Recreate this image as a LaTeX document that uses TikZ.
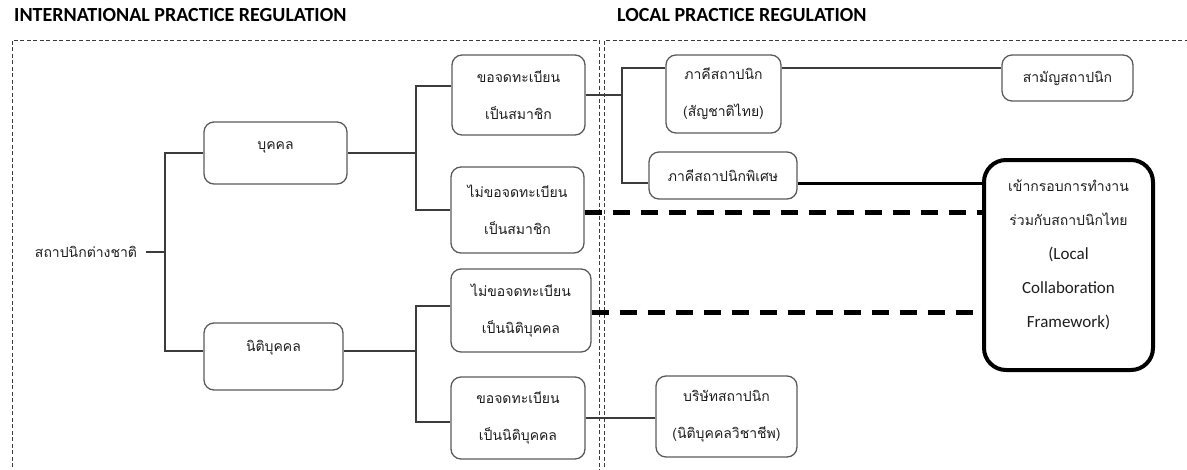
\documentclass[tikz,border=0pt]{standalone}
\usepackage{fontspec}
\setmainfont{Carlito}
\newfontfamily\thaifont[Script=Thai]{Loma}
\usetikzlibrary{calc}

\definecolor{linegray}{HTML}{3C3C3C}
\definecolor{boxgray}{HTML}{5A5A5A}
\definecolor{dashgray}{HTML}{3A3A3A}
\definecolor{txt}{HTML}{1E1E1E}

\begin{document}
\begin{tikzpicture}[x=1pt,y=-1pt,
  thai/.style={font=\thaifont\fontsize{14}{37}\selectfont, text=txt},
  rbox/.style={thai, draw=boxgray, line width=1.3pt, rounded corners=10pt, align=center, inner sep=0pt},
  lcfbox/.style={draw=black, line width=4pt, rounded corners=22pt, inner sep=0pt},
  link/.style={draw=linegray, line width=1.2pt},
  boldlink/.style={draw=black, line width=3pt},
  dashlink/.style={draw=black, line width=5pt, dash pattern=on 17pt off 11pt},
  region/.style={draw=dashgray, line width=1pt, dash pattern=on 4pt off 2.5pt},
  heading/.style={font=\bfseries\fontsize{20}{24}\selectfont, anchor=west, inner sep=0pt}
]
\useasboundingbox (0,0) rectangle (1187,469);

% regulation regions
\draw[region] (12,480) -- (12,40) -- (599,40) -- (599,480);
\draw[region] (604,480) -- (604,40) -- (1200,40);

\node[heading] (h1) at (14,15) {INTERNATIONAL PRACTICE REGULATION};
\node[heading] (h2) at (617,15) {LOCAL PRACTICE REGULATION};

% international side
\node[thai, inner ysep=3pt, inner xsep=9pt] (foreign) at (86,252) {สถาปนิกต่างชาติ};
\node[rbox, minimum width=143pt, minimum height=62pt, text height=10pt, text depth=17pt] (person) at (275.5,153) {บุคคล};
\node[rbox, minimum width=139pt, minimum height=67pt, text height=10pt, text depth=20pt] (juristic) at (273.5,356.5) {นิติบุคคล};

\node[rbox, minimum width=133pt, minimum height=80pt] (b1) at (518.5,95) {ขอจดทะเบียน\\เป็นสมาชิก};
\node[rbox, minimum width=133pt, minimum height=86pt] (b2) at (517.5,210) {ไม่ขอจดทะเบียน\\เป็นสมาชิก};
\node[rbox, minimum width=140pt, minimum height=83pt] (b3) at (521,310.5) {ไม่ขอจดทะเบียน\\เป็นนิติบุคคล};
\node[rbox, minimum width=134pt, minimum height=82pt] (b4) at (518,418) {ขอจดทะเบียน\\เป็นนิติบุคคล};

% local side
\node[rbox, minimum width=115pt, minimum height=78pt] (c1) at (723.5,94) {ภาคีสถาปนิก\\(สัญชาติไทย)};
\node[rbox, minimum width=131pt, minimum height=46pt] (c2) at (1067.5,78) {สามัญสถาปนิก};
\node[rbox, minimum width=148pt, minimum height=47pt] (c3) at (723,175.5) {ภาคีสถาปนิกพิเศษ};
\node[rbox, minimum width=141pt, minimum height=81pt] (c4) at (726.5,416.5) {บริษัทสถาปนิก\\(นิติบุคคลวิชาชีพ)};

\node[lcfbox, minimum width=169pt, minimum height=210pt] (lcf) at (1068.5,265) {};
\node[align=center, inner sep=0pt, text=txt, font=\fontsize{17}{34}\selectfont] (lcftext) at (1068.5,255)
  {{\thaifont\fontsize{14}{16}\selectfont เข้ากรอบการทำงาน}\\
   {\thaifont\fontsize{14}{16}\selectfont ร่วมกับสถาปนิกไทย}\\
   (Local\\Collaboration\\Framework)};

% connector levels
\coordinate (j0) at (165,252);
\coordinate (j1) at (416,153);
\coordinate (j2) at (416,351);
\coordinate (j3) at (622,95);
\coordinate (y68) at (0,68);
\coordinate (y183) at (0,183);
\coordinate (y212) at (0,212);
\coordinate (y312) at (0,312);
\coordinate (y418) at (0,418);

% tree connectors
\draw[link] (foreign.east) -- (j0);
\draw[link] (person.west) -| (j0) |- ($(juristic.west)+(0,-5.5)$);
\draw[link] (person.east) -- (j1);
\draw[link] ($(b1.west)+(0,-9)$) -| (j1) |- (b2.west);
\draw[link] ($(juristic.east)+(0,-5.5)$) -- (j2);
\draw[link] ($(b3.west)+(0,-4.5)$) -| (j2) |- ($(b4.west)+(0,4)$);

\draw[link] (b1.east) -- (j3);
\draw[link] (c1.west |- y68) -| (j3) |- (c3.west |- y183);
\draw[link] (c1.east |- y68) -- (c2.west |- y68);
\draw[link] (b4.east |- y418) -- (c4.west |- y418);

\draw[boldlink] (c3.east |- y183) -- (lcf.west |- y183);
\draw[dashlink] (b2.east |- y212) -- (lcf.west |- y212);
\draw[dashlink] (b3.east |- y312) -- (lcf.west |- y312);
\end{tikzpicture}
\end{document}
